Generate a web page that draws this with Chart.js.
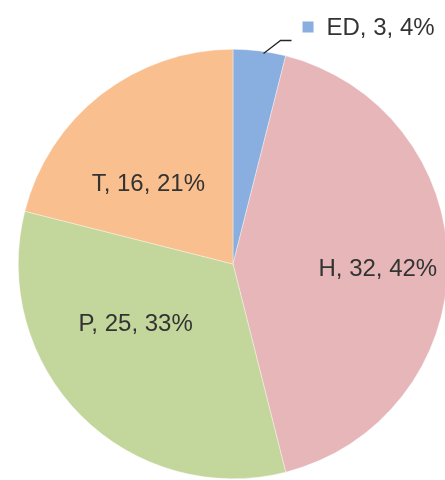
<!DOCTYPE html>
<html>
<head>
<meta charset="utf-8">
<script src="https://cdn.jsdelivr.net/npm/chart.js@4/dist/chart.umd.min.js"></script>
<style>
  html, body { margin: 0; padding: 0; background: #ffffff; overflow: hidden; }
  #wrap { position: relative; width: 470px; height: 480px; }
</style>
</head>
<body>
<div id="wrap"><canvas id="c"></canvas></div>
<script>
const categories = ["ED", "H", "P", "T"];
const values = [3, 32, 25, 16];
const colors = ["#88AFE0", "#E6B6B8", "#C3D69B", "#F9BF8F"];

const total = values.reduce((a, b) => a + b, 0);
const labelText = (i) => categories[i] + ", " + values[i] + ", " + Math.round(values[i] / total * 100) + "%";

// label placement: radial fraction + angle tweak (deg) per slice, or outside with leader
const place = [
  { outside: true },
  { frac: 0.675, dAng: 2 },
  { frac: 0.535, dAng: 13 },
  { frac: 0.54, dAng: -9 }
];

const labelPlugin = {
  id: "sliceLabels",
  afterDatasetsDraw(chart) {
    const ctx = chart.ctx;
    const meta = chart.getDatasetMeta(0);
    ctx.save();
    ctx.font = "24px 'Liberation Sans', Arial, sans-serif";
    ctx.fillStyle = "#333333";
    ctx.textBaseline = "middle";
    meta.data.forEach((arc, i) => {
      const p = arc.getProps(["x", "y", "startAngle", "endAngle", "outerRadius"], true);
      const mid = (p.startAngle + p.endAngle) / 2;
      const cfg = place[i];
      if (cfg.outside) {
        const a = mid + 0.02;
        const sx = p.x + Math.cos(a) * (p.outerRadius - 2);
        const sy = p.y + Math.sin(a) * (p.outerRadius - 2);
        const ex = sx + 17, ey = sy - 13;
        ctx.strokeStyle = "#262626";
        ctx.lineWidth = 1.3;
        ctx.beginPath();
        ctx.moveTo(sx, sy);
        ctx.lineTo(ex, ey);
        ctx.lineTo(ex + 11, ey);
        ctx.stroke();
        const mx = ex + 22, my = ey - 13;
        ctx.fillStyle = colors[i];
        ctx.fillRect(mx, my - 6, 11, 11);
        ctx.fillStyle = "#333333";
        ctx.textAlign = "left";
        ctx.fillText(labelText(i), mx + 24, my + 1);
      } else {
        const a = mid + cfg.dAng * Math.PI / 180;
        const r = p.outerRadius * cfg.frac;
        ctx.textAlign = "center";
        ctx.fillText(labelText(i), p.x + Math.cos(a) * r, p.y + Math.sin(a) * r);
      }
    });
    ctx.restore();
  }
};

new Chart(document.getElementById("c"), {
  type: "pie",
  data: {
    labels: categories,
    datasets: [{
      data: values,
      backgroundColor: colors,
      borderWidth: 0.6,
      borderColor: "rgba(255,255,255,0.6)"
    }]
  },
  options: {
    responsive: true,
    maintainAspectRatio: false,
    animation: false,
    layout: { padding: { left: 18, top: 49, right: 22, bottom: 1 } },
    plugins: {
      legend: { display: false },
      tooltip: { enabled: false }
    }
  },
  plugins: [labelPlugin]
});
</script>
</body>
</html>
